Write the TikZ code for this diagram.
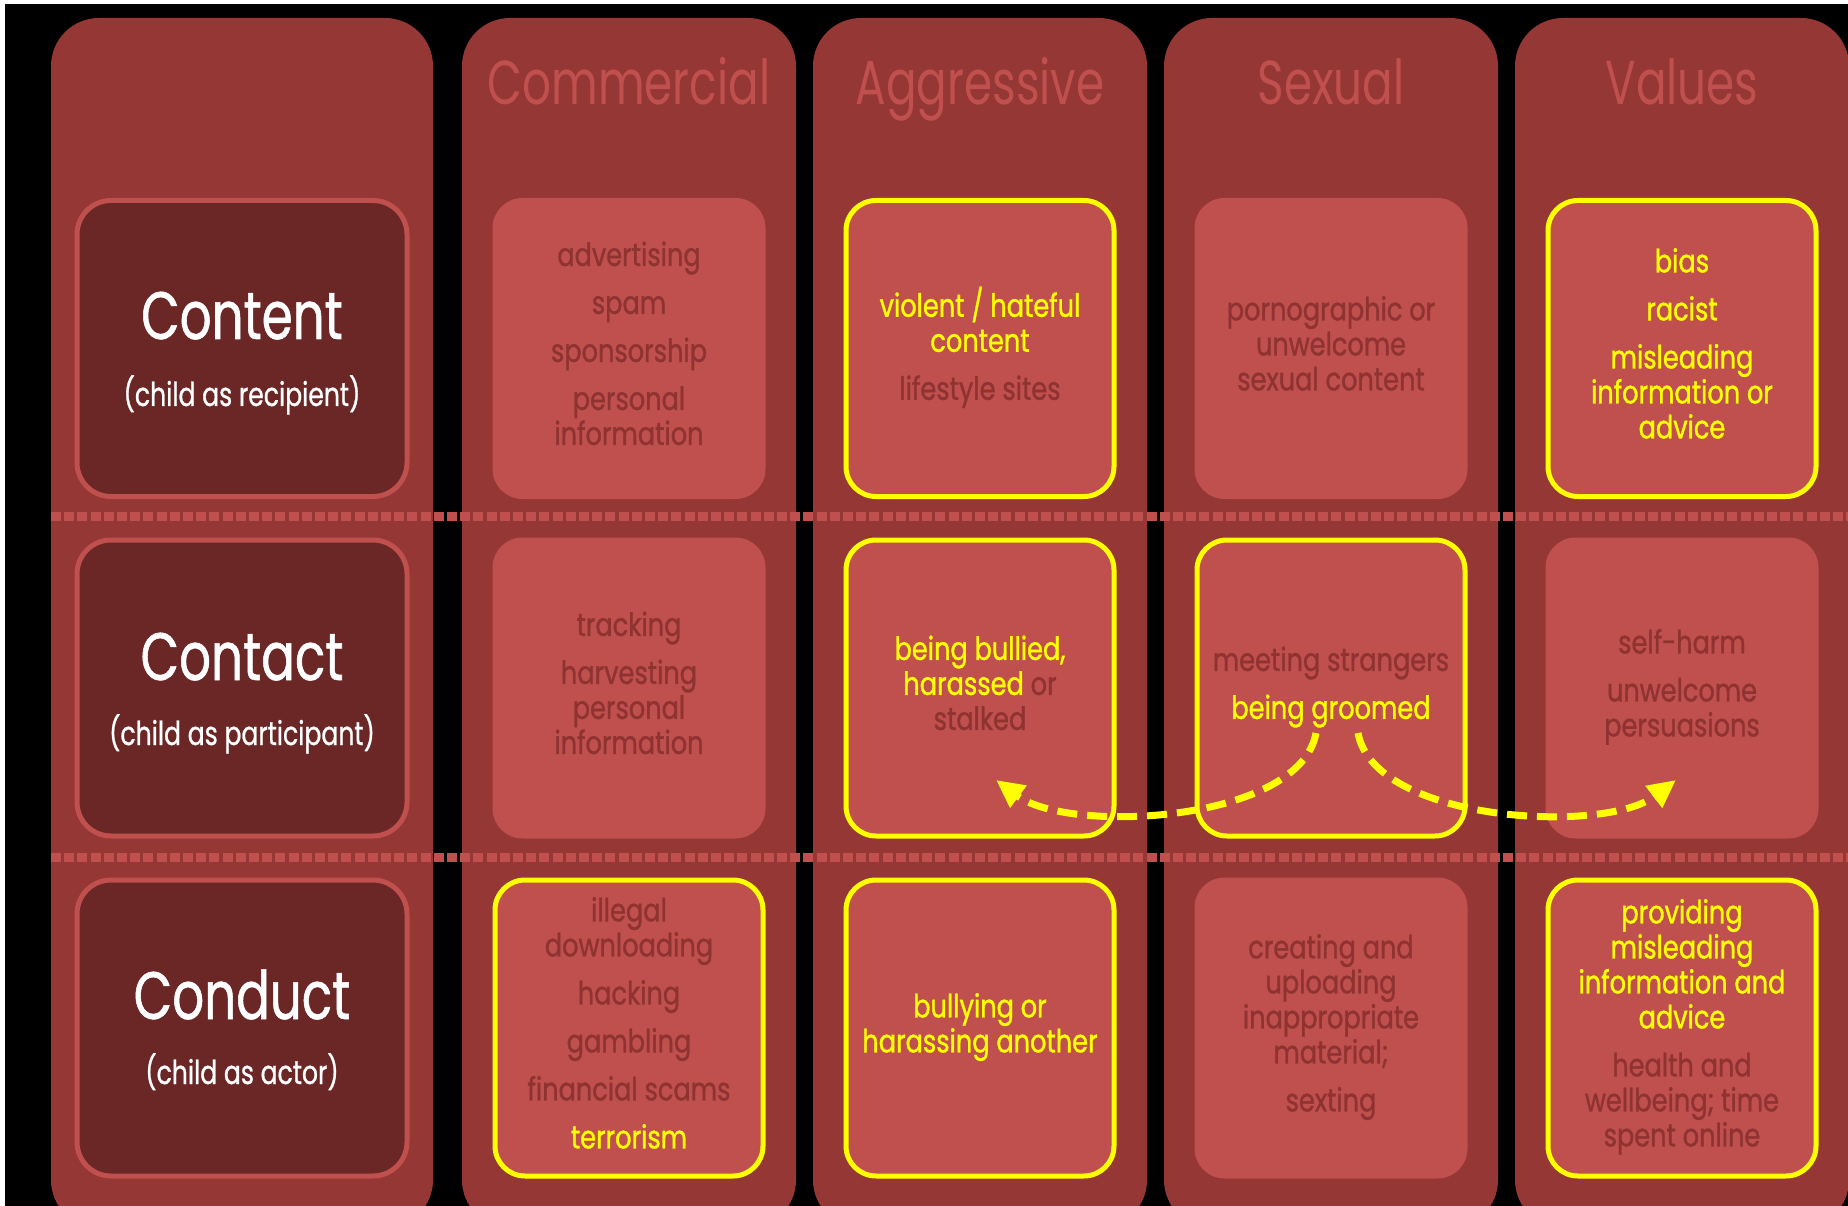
\documentclass[tikz,border=0pt]{standalone}
\usepackage{fontspec}
\usetikzlibrary{arrows.meta}
\setmainfont{Poppins}
\newfontfamily\itemfont[FakeStretch=0.80,FakeBold=1.0]{Poppins}
\newfontfamily\headfont[FakeStretch=0.73]{Poppins}
\newfontfamily\titlefont[FakeStretch=0.745,FakeBold=0.8]{Poppins}
\newfontfamily\subfont[FakeStretch=0.76,FakeBold=0.8]{Poppins}
\definecolor{colred}{HTML}{953735}
\definecolor{cellred}{HTML}{C0504D}
\definecolor{darkcell}{HTML}{6A2726}
\definecolor{faint}{HTML}{8E3331}
\definecolor{hiyellow}{HTML}{FFFF00}
\newcommand{\yel}[1]{\textcolor{hiyellow}{#1}}
\begin{document}
\begin{tikzpicture}[x=1pt,y=-1pt,
  colbg/.style={fill=colred, rounded corners=48pt},
  cell/.style={fill=cellred, rounded corners=30pt, minimum width=273pt, minimum height=301pt,
    inner sep=0pt, align=center, text=faint, font=\itemfont\fontsize{32}{35}\selectfont,
    execute at begin node={\rule[-10.5pt]{0pt}{35pt}}, execute at end node={\rule[-10.5pt]{0pt}{35pt}}},
  hot/.style={cell, draw=hiyellow, line width=5pt, minimum width=268pt, minimum height=296pt},
  lead/.style={fill=darkcell, draw=cellred, line width=5pt, rounded corners=34pt,
    minimum width=330pt, minimum height=296pt},
  head/.style={text=cellred, inner sep=0pt, font=\headfont\fontsize{62}{62}\selectfont},
  title/.style={text=white, inner sep=0pt, font=\titlefont\fontsize{67}{67}\selectfont},
  subt/.style={text=white, inner sep=0pt, font=\subfont\fontsize{33}{33}\selectfont},
  sepline/.style={draw=cellred, line width=9pt, dash pattern=on 10pt off 3.2pt},
  flow/.style={draw=hiyellow, line width=7pt, dash pattern=on 20pt off 10pt,
    -{Triangle[length=28pt,width=26pt]}}
]
\useasboundingbox (0,0) rectangle (1848,1206);
\clip (0,0) rectangle (1848,1206);
\fill[black] (0,0) rectangle (1848,1206);
\fill[white] (0,0) rectangle (1848,4);
\fill[white] (0,0) rectangle (5,1206);

% columns
\fill[colbg] (51,18) rectangle (433,1228);
\fill[colbg] (462,18) rectangle (796,1228);
\fill[colbg] (813,18) rectangle (1147,1228);
\fill[colbg] (1164,18) rectangle (1498,1228);
\fill[colbg] (1515,18) rectangle (1849,1228);

% separators
\draw[sepline] (51,516) -- (1848,516);
\draw[sepline] (51,857) -- (1848,857);

% headers
\node[head, anchor=base] (hcom) at (629,105) {Commercial};
\node[head, anchor=base] (hagg) at (980,105) {Aggressive};
\node[head, anchor=base] (hsex) at (1331,105) {Sexual};
\node[head, anchor=base] (hval) at (1682,105) {Values};

% lead column
\node[lead] (k1) at (242,348.5) {};
\node[lead] (k2) at (242,688) {};
\node[lead] (k3) at (242,1028) {};
\node[title, anchor=base] (t1) at (242,339) {Content};
\node[subt, anchor=base] (s1) at (242,406) {(child as recipient)};
\node[title, anchor=base] (t2) at (242,680) {Contact};
\node[subt, anchor=base] (s2) at (242,745) {(child as participant)};
\node[title, anchor=base] (t3) at (242,1019) {Conduct};
\node[subt, anchor=base] (s3) at (242,1084) {(child as actor)};

% row 1
\node[cell] (c21) at (629,348.5) {advertising\\[13pt]spam\\[13pt]sponsorship\\[13pt]personal\\information};
\node[hot] (c31) at (980,348.5) {\yel{violent / hateful}\\\yel{content}\\[13pt]lifestyle sites};
\node[cell] (c41) at (1331,348.5) {pornographic or\\unwelcome\\sexual content};
\node[hot] (c51) at (1682,348.5) {\yel{bias}\\[13pt]\yel{racist}\\[13pt]\yel{misleading}\\\yel{information or}\\\yel{advice}};

% row 2
\node[cell] (c22) at (629,688) {tracking\\[13pt]harvesting\\personal\\information};
\node[hot] (c32) at (980,688) {\yel{being bullied,}\\\yel{harassed} or\\stalked};
\node[hot] (c42) at (1331,688) {meeting strangers\\[13pt]\yel{being groomed}};
\node[cell] (c52) at (1682,688) {self-harm\\[13pt]unwelcome\\persuasions};

% row 3
\node[hot] (c23) at (629,1028) {illegal\\downloading\\[13pt]hacking\\[13pt]gambling\\[13pt]financial scams\\[13pt]\yel{terrorism}};
\node[hot] (c33) at (980,1028) {\yel{bullying or}\\\yel{harassing another}};
\node[cell] (c43) at (1331,1028) {creating and\\uploading\\inappropriate\\material;\\[13pt]sexting};
\node[hot] (c53) at (1682,1028) {\yel{providing}\\\yel{misleading}\\\yel{information and}\\\yel{advice}\\[13pt]health and\\wellbeing; time\\spent online};

% arrows from "being groomed"
\coordinate (gl) at (1316,733);
\coordinate (gr) at (1358,733);
\coordinate (bt) at (996,780);
\coordinate (ht) at (1676,780);
\draw[flow] (gl) .. controls (1300,822) and (1070,835) .. (bt);
\draw[flow] (gr) .. controls (1374,822) and (1604,835) .. (ht);
\end{tikzpicture}
\end{document}
